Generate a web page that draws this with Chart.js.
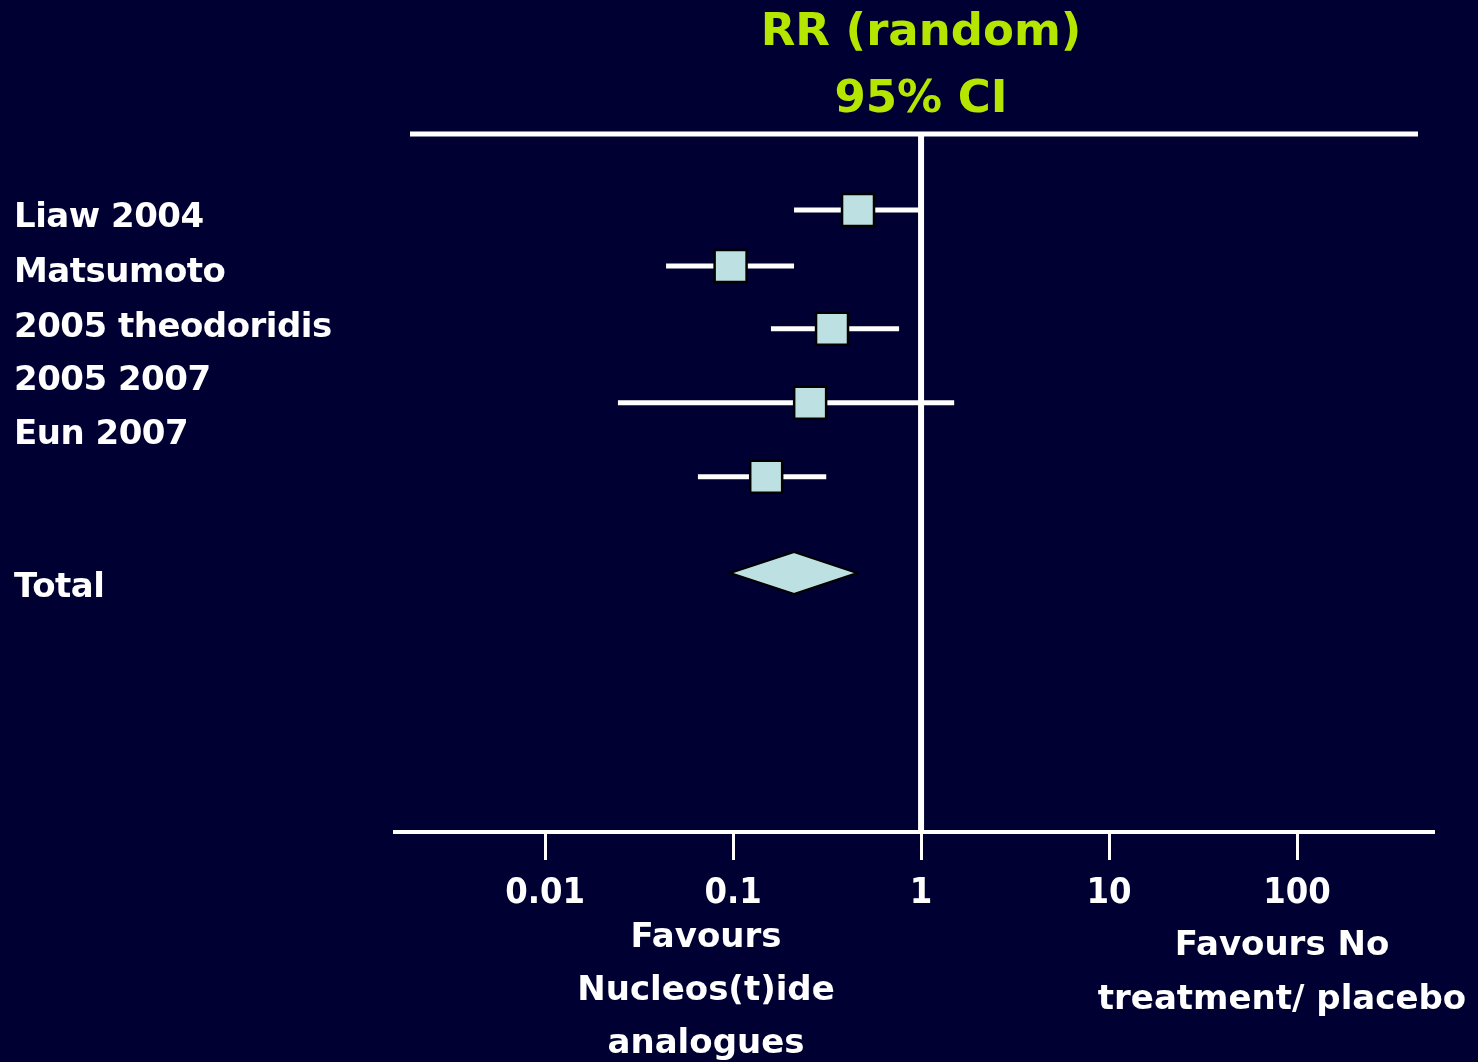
<!DOCTYPE html>
<html>
<head>
<meta charset="utf-8">
<script src="https://cdn.jsdelivr.net/npm/chart.js@4.4.1/dist/chart.umd.min.js"></script>
<style>
  html, body { margin: 0; padding: 0; background: #000033; }
  canvas { display: block; }
</style>
</head>
<body>
<canvas id="forest" width="1478" height="1062"></canvas>
<script>
// study rows (risk ratio, 95% CI)
const studyLabels = ['Liaw 2004', 'Matsumoto', '2005 theodoridis', '2005 2007', 'Eun 2007', 'Total'];
const labelRows = [12.1, 20.0, 27.8, 35.4, 43.1, 65.0];
const studyRows = [10.9, 18.9, 27.9, 38.5, 49.1];
const studyRR = [0.462, 0.097, 0.336, 0.257, 0.150];
const studyLow = [0.211, 0.044, 0.159, 0.0244, 0.065];
const studyHigh = [0.976, 0.211, 0.764, 1.50, 0.313];

// pooled estimate (diamond)
const totalRow = 62.9;
const totalRR = 0.211;
const totalLow = 0.0964;
const totalHigh = 0.457;

// axis ticks
const tickValues = [0.01, 0.1, 1, 10, 100];
const tickLabels = ['0.01', '0.1', '1', '10', '100'];

const BG = '#000033';
const BOX = '#bde0e3';
const GREEN = '#b4e600';
const FONT = "'DejaVu Sans', Verdana, sans-serif";

// whiskers, one line per study
const whiskers = studyRows.map((row, i) => ({
  type: 'line',
  data: [{ x: studyLow[i], y: row }, { x: studyHigh[i], y: row }],
  borderColor: '#ffffff',
  borderWidth: 5,
  borderCapStyle: 'butt',
  pointRadius: 0,
  fill: false,
  order: 1
}));

const forestPlugin = {
  id: 'forest',
  beforeDraw(chart) {
    const { ctx } = chart;
    ctx.save();
    ctx.fillStyle = BG;
    ctx.fillRect(0, 0, chart.width, chart.height);
    ctx.restore();
  },
  beforeDatasetsDraw(chart) {
    const { ctx, chartArea } = chart;
    const x = chart.scales.x;
    ctx.save();
    ctx.strokeStyle = '#ffffff';
    // header rule
    ctx.lineWidth = 5;
    ctx.beginPath();
    ctx.moveTo(chartArea.left + 15, chartArea.top);
    ctx.lineTo(chartArea.right - 15, chartArea.top);
    ctx.stroke();
    // line of no effect
    const x1 = x.getPixelForValue(1);
    ctx.lineWidth = 6;
    ctx.beginPath();
    ctx.moveTo(x1, chartArea.top);
    ctx.lineTo(x1, chartArea.bottom);
    ctx.stroke();
    ctx.restore();
  },
  afterDatasetsDraw(chart) {
    const { ctx } = chart;
    const x = chart.scales.x, y = chart.scales.y;
    const cy = y.getPixelForValue(totalRow);
    const half = 21;
    ctx.save();
    ctx.beginPath();
    ctx.moveTo(x.getPixelForValue(totalLow), cy);
    ctx.lineTo(x.getPixelForValue(totalRR), cy - half);
    ctx.lineTo(x.getPixelForValue(totalHigh), cy);
    ctx.lineTo(x.getPixelForValue(totalRR), cy + half);
    ctx.closePath();
    ctx.fillStyle = BOX;
    ctx.fill();
    ctx.strokeStyle = '#000000';
    ctx.lineWidth = 2;
    ctx.stroke();
    ctx.restore();
  },
  afterDraw(chart) {
    const { ctx } = chart;
    const y = chart.scales.y;
    ctx.save();
    ctx.textBaseline = 'middle';

    // title
    ctx.fillStyle = GREEN;
    ctx.textAlign = 'center';
    ctx.font = 'bold 45px ' + FONT;
    ctx.fillText('RR (random)', 921, 33);
    ctx.fillText('95% CI', 921, 100);

    // study names
    ctx.fillStyle = '#ffffff';
    ctx.textAlign = 'left';
    ctx.font = 'bold 34px ' + FONT;
    ctx.letterSpacing = '-0.5px';
    studyLabels.forEach((lab, i) => {
      ctx.fillText(lab, 14, y.getPixelForValue(labelRows[i]));
    });
    ctx.letterSpacing = '0px';

    // favours captions
    ctx.textAlign = 'center';
    ctx.font = 'bold 34px ' + FONT;
    ['Favours', 'Nucleos(t)ide', 'analogues'].forEach((t, i) => {
      ctx.fillText(t, 706, 938 + i * 53);
    });
    ['Favours No', 'treatment/ placebo'].forEach((t, i) => {
      ctx.fillText(t, 1282, 946 + i * 54);
    });
    ctx.restore();
  }
};

new Chart(document.getElementById('forest'), {
  type: 'scatter',
  data: {
    datasets: [
      {
        type: 'scatter',
        data: studyRows.map((row, i) => ({ x: studyRR[i], y: row })),
        pointStyle: 'rect',
        pointRadius: 22.6,
        pointHoverRadius: 22.6,
        backgroundColor: BOX,
        borderColor: '#000000',
        borderWidth: 2.5,
        order: 0
      },
      ...whiskers
    ]
  },
  options: {
    responsive: false,
    animation: false,
    events: [],
    layout: { padding: { left: 395, right: 45, top: 134, bottom: 146 } },
    plugins: {
      legend: { display: false },
      tooltip: { enabled: false },
      title: { display: false }
    },
    scales: {
      x: {
        type: 'logarithmic',
        min: 0.00159,
        max: 529,
        bounds: 'data',
        afterBuildTicks: (s) => { s.ticks = tickValues.map(v => ({ value: v })); },
        afterFit: (s) => { s.height = 84; },
        border: { display: true, color: '#ffffff', width: 4 },
        grid: {
          drawOnChartArea: false,
          drawTicks: true,
          color: '#ffffff',
          lineWidth: 3,
          tickLength: 28
        },
        ticks: {
          color: '#ffffff',
          padding: 12,
          maxRotation: 0,
          autoSkip: false,
          font: { family: "'DejaVu Sans Condensed', 'DejaVu Sans', sans-serif", weight: 'bold', size: 36 },
          callback: (v, i) => tickLabels[i]
        }
      },
      y: {
        type: 'linear',
        min: 0,
        max: 100,
        reverse: true,
        display: false
      }
    }
  },
  plugins: [forestPlugin]
});
</script>
</body>
</html>
